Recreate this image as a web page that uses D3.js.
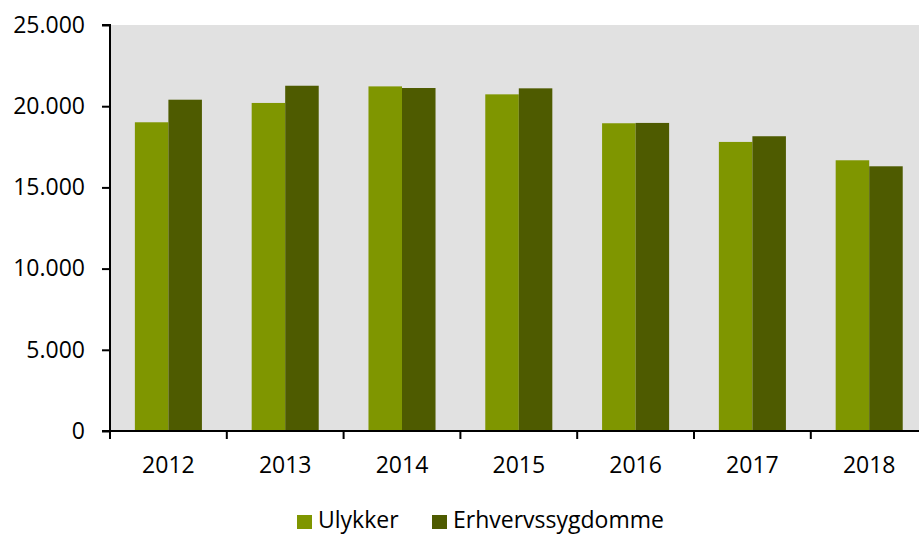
<!DOCTYPE html>
<html>
<head>
<meta charset="utf-8">
<script src="https://cdn.jsdelivr.net/npm/d3@7"></script>
<style>
  body { margin: 0; background: #fff; }
  svg text { font-family: "Open Sans", sans-serif; fill: #000; }
</style>
</head>
<body>
<svg id="chart" width="919" height="534"></svg>
<script>
// data
var years = ['2012', '2013', '2014', '2015', '2016', '2017', '2018'];
var seriesNames = ['Ulykker', 'Erhvervssygdomme'];
var ulykker = [19010, 20200, 21220, 20730, 18950, 17800, 16670];
var erhverv = [20400, 21260, 21120, 21100, 18970, 18150, 16300];
var yTicks = [0, 5000, 10000, 15000, 20000, 25000];
var colors = ['#7f9600', '#4e5b00'];

var svg = d3.select('#chart');
var plotLeft = 110, plotTop = 25, plotBottom = 431;
var catWidth = 116.8;
var plotRight = plotLeft + catWidth * years.length; // plot runs past the window edge
var fontSize = 23;

var x0 = d3.scaleBand().domain(years).range([plotLeft, plotRight]);
var gap = catWidth * 0.213;
var x1 = d3.scaleBand().domain(seriesNames).range([gap, x0.bandwidth() - gap]);
var y = d3.scaleLinear().domain([0, 25000]).range([plotBottom, plotTop]);

// plot background
svg.append('rect')
  .attr('x', plotLeft).attr('y', plotTop)
  .attr('width', plotRight - plotLeft).attr('height', plotBottom - plotTop)
  .attr('fill', '#e1e1e1');

var rows = years.map(function (yr, i) {
  return { year: yr, values: [ulykker[i], erhverv[i]] };
});

var groups = svg.selectAll('g.year')
  .data(rows)
  .enter().append('g')
  .attr('class', 'year')
  .attr('transform', function (d) { return 'translate(' + x0(d.year) + ',0)'; });

groups.selectAll('rect')
  .data(function (d) { return d.values.map(function (v, k) { return { name: seriesNames[k], value: v, k: k }; }); })
  .enter().append('rect')
  .attr('x', function (d) { return x1(d.name); })
  .attr('width', x1.bandwidth())
  .attr('y', function (d) { return y(d.value); })
  .attr('height', function (d) { return plotBottom - y(d.value); })
  .attr('fill', function (d) { return colors[d.k]; });

// y axis
var fmt = function (v) { return d3.format(',')(v).replace(/,/g, '.'); };
var yAxis = d3.axisLeft(y).tickValues(yTicks).tickSize(8).tickPadding(17).tickFormat(fmt);
var yg = svg.append('g').attr('transform', 'translate(' + plotLeft + ',0)').call(yAxis);
yg.select('.domain').attr('stroke', '#000').attr('stroke-width', 2)
  .attr('d', 'M-8,' + plotTop + 'H0V' + plotBottom);
yg.selectAll('.tick line').attr('stroke', '#000').attr('stroke-width', 2);
yg.selectAll('.tick text').attr('font-size', fontSize).attr('font-family', '"Open Sans", sans-serif');

// x axis: ticks sit on category boundaries
var xg = svg.append('g').attr('transform', 'translate(0,' + plotBottom + ')');
xg.append('line')
  .attr('x1', plotLeft - 8).attr('x2', plotRight)
  .attr('stroke', '#000').attr('stroke-width', 2);
var bounds = years.map(function (yr) { return x0(yr); }).concat([plotRight]);
xg.selectAll('line.tick')
  .data(bounds)
  .enter().append('line')
  .attr('class', 'tick')
  .attr('x1', function (d) { return d; }).attr('x2', function (d) { return d; })
  .attr('y1', 0).attr('y2', 8)
  .attr('stroke', '#000').attr('stroke-width', 2);
xg.selectAll('text')
  .data(years)
  .enter().append('text')
  .attr('x', function (d) { return x0(d) + x0.bandwidth() / 2; })
  .attr('y', 42)
  .attr('text-anchor', 'middle')
  .attr('font-size', fontSize)
  .text(function (d) { return d; });

// legend
var legendX = [297, 432];
var legend = svg.selectAll('g.legend')
  .data(seriesNames)
  .enter().append('g')
  .attr('class', 'legend')
  .attr('transform', function (d, i) { return 'translate(' + legendX[i] + ',515)'; });
legend.append('rect')
  .attr('width', 15).attr('height', 14)
  .attr('fill', function (d, i) { return colors[i]; });
legend.append('text')
  .attr('x', 21).attr('y', 13)
  .attr('font-size', fontSize)
  .text(function (d) { return d; });
</script>
</body>
</html>
